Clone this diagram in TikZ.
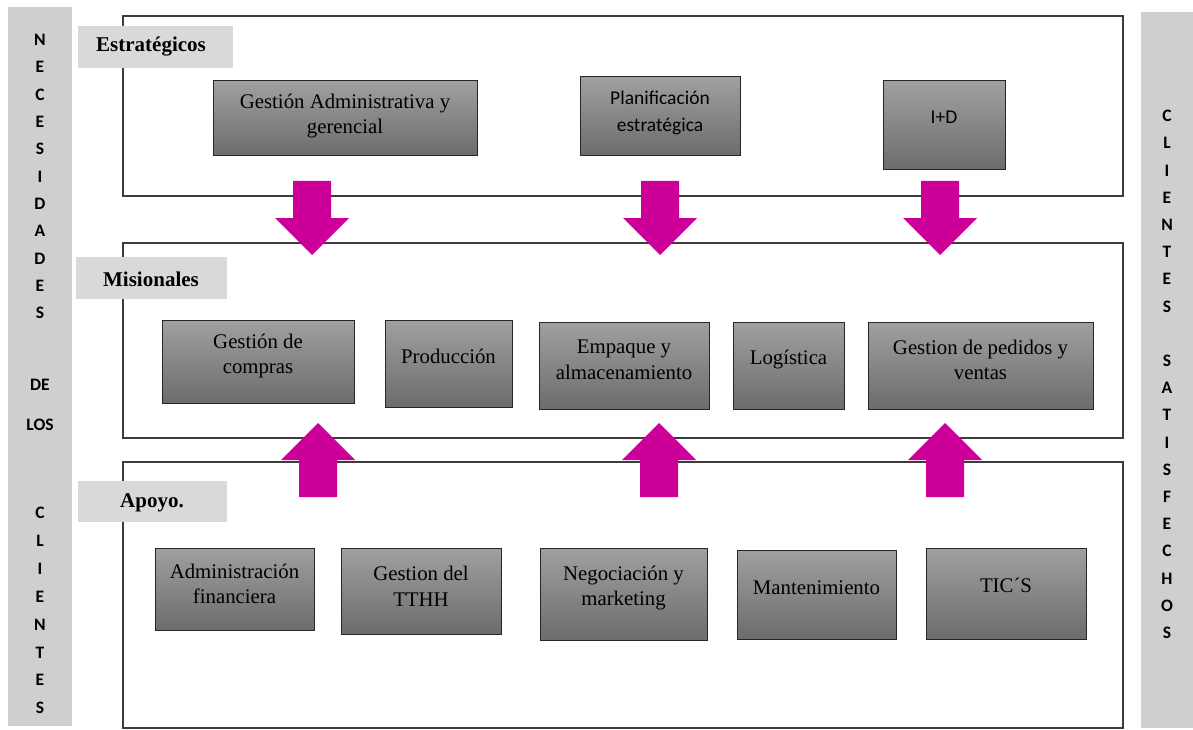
\documentclass[tikz,border=0pt]{standalone}
\usepackage{fontspec}
\setmainfont{Liberation Serif}
\newfontfamily\calibri{Carlito}
\definecolor{sidegray}{RGB}{208,206,206}
\definecolor{tabgray}{RGB}{217,217,217}
\definecolor{boxtop}{RGB}{160,160,160}
\definecolor{boxbot}{RGB}{108,108,108}
\definecolor{arrowmag}{RGB}{204,0,153}
\definecolor{framecol}{RGB}{60,60,60}
\tikzset{
  sidebar/.style={fill=sidegray,draw=none},
  sidetext/.style={align=center,inner sep=0,font=\calibri\bfseries\fontsize{17.5}{27.3}\selectfont,text=black},
  frame/.style={draw=framecol,line width=1.2pt,fill=white},
  tabbox/.style={fill=tabgray,draw=none},
  tabtext/.style={inner sep=0,font=\bfseries\fontsize{21}{25}\selectfont,text=black},
  gbox/.style={draw=black!85,line width=1pt,top color=boxtop,bottom color=boxbot,inner sep=0},
  btext/.style={align=center,inner sep=0,font=\fontsize{20.8}{25.5}\selectfont,text=black},
  stext/.style={align=center,inner sep=0,font=\calibri\fontsize{19.5}{27}\selectfont,text=black},
  arrowfill/.style={fill=arrowmag,draw=none}
}
\begin{document}
\begin{tikzpicture}[x=1pt,y=-1pt]
\useasboundingbox (0,0) rectangle (1193,730);
% side bars
\fill[sidebar] (8,7) rectangle (72,726);
\fill[sidebar] (1141,12) rectangle (1193,728);
\node[sidetext] (lnec) at (40,176.5) {N\\E\\C\\E\\S\\I\\D\\A\\D\\E\\S};
\node[sidetext] (lde) at (40,385) {DE};
\node[sidetext] (llos) at (40,425) {LOS};
\node[sidetext,font=\calibri\bfseries\fontsize{17.5}{27.9}\selectfont] (lcli) at (40,610.5) {C\\L\\I\\E\\N\\T\\E\\S};
\node[sidetext,font=\calibri\bfseries\fontsize{17.5}{27.2}\selectfont] (rcli) at (1167,374.5) {C\\L\\I\\E\\N\\T\\E\\S\\[27.2pt]S\\A\\T\\I\\S\\F\\E\\C\\H\\O\\S};
% frames
\draw[frame] (123,16) rectangle (1123,196);
\draw[frame] (123,243) rectangle (1123,438);
\draw[frame] (123,462) rectangle (1123,728);
% tabs
\fill[tabbox] (78,26) rectangle (233,68);
\node[tabtext,anchor=west] (test) at (96,47) {Estratégicos};
\fill[tabbox] (76,257) rectangle (227,299);
\node[tabtext] (tmis) at (151,279) {Misionales};
\fill[tabbox] (78,481) rectangle (227,522);
\node[tabtext] (tapo) at (152,503) {Apoyo.};
% top row
\node[gbox,minimum width=264,minimum height=75] (b1) at (345,118.5) {};
\node[btext] (t1) at (345,116) {Gestión Administrativa y\\gerencial};
\node[gbox,minimum width=160,minimum height=79] (b2) at (660,116.5) {};
\node[stext] (t2) at (660,113) {Planificación\\estratégica};
\node[gbox,minimum width=122,minimum height=89] (b3) at (944,125.5) {};
\node[stext] (t3) at (944,117.5) {I+D};
% middle row
\node[gbox,minimum width=192,minimum height=83] (m1) at (258,361.5) {};
\node[btext] (mt1) at (258,356) {Gestión de\\compras};
\node[gbox,minimum width=127,minimum height=87] (m2) at (448.5,363.5) {};
\node[btext] (mt2) at (448.5,356) {Producción};
\node[gbox,minimum width=170,minimum height=87] (m3) at (624,365.5) {};
\node[btext] (mt3) at (624,360) {Empaque y\\almacenamiento};
\node[gbox,minimum width=111,minimum height=87] (m4) at (788.5,365.5) {};
\node[btext] (mt4) at (788.5,360) {Logística};
\node[gbox,minimum width=225,minimum height=87] (m5) at (980.5,365.5) {};
\node[btext] (mt5) at (980.5,360) {Gestion de pedidos y\\ventas};
% bottom row
\node[gbox,minimum width=159,minimum height=82] (a1) at (234.5,589) {};
\node[btext] (at1) at (234.5,584) {Administración\\financiera};
\node[gbox,minimum width=160,minimum height=86] (a2) at (421,591) {};
\node[btext] (at2) at (421,586.5) {Gestion del\\TTHH};
\node[gbox,minimum width=167,minimum height=92] (a3) at (623.5,594) {};
\node[btext] (at3) at (623.5,588) {Negociación y\\marketing};
\node[gbox,minimum width=159,minimum height=89] (a4) at (816.5,594.5) {};
\node[btext] (at4) at (816.5,588) {Mantenimiento};
\node[gbox,minimum width=160,minimum height=91] (a5) at (1006,593.5) {};
\node[btext] (at5) at (1006,585) {TIC´S};
% arrows
\foreach \cx in {312,660,940}{
  \fill[arrowfill] (\cx-19,181) -- (\cx+19,181) -- (\cx+19,218) -- (\cx+37,218) -- (\cx,255) -- (\cx-37,218) -- (\cx-19,218) -- cycle;
}
\foreach \cx in {318,659,945}{
  \fill[arrowfill] (\cx-19,497) -- (\cx+19,497) -- (\cx+19,460) -- (\cx+37,460) -- (\cx,423) -- (\cx-37,460) -- (\cx-19,460) -- cycle;
}
\end{tikzpicture}
\end{document}
